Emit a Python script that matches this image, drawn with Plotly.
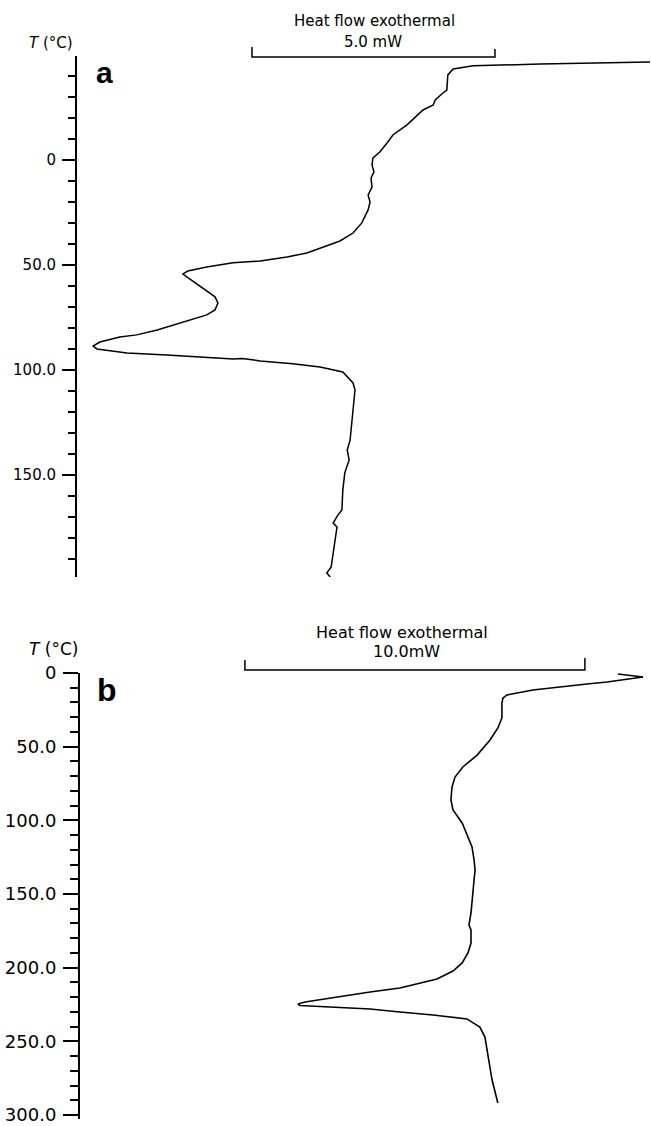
import plotly.graph_objects as go

W, H = 651, 1126

# ---------------- Panel a data (heat flow in mW, arbitrary origin; T in °C)
hf_a = [11.79, 10.21, 9.53, 8.15, 7.74, 7.63, 7.61, 7.53, 7.37, 7.33, 7.12, 6.79, 6.50, 6.38,
        6.23, 6.09, 6.07, 6.11, 6.05, 6.07, 5.99, 6.03, 5.99, 5.86, 5.68, 5.41, 5.00, 4.73,
        4.32, 3.77, 3.21, 2.67, 2.28, 2.18, 2.26, 2.59, 2.84, 2.90, 2.84, 2.67, 2.33, 1.98,
        1.65, 1.23, 0.88, 0.47, 0.33, 0.41, 1.03, 1.85, 2.74, 3.21, 3.40, 3.77, 4.44, 5.00,
        5.47, 5.68, 5.72, 5.70, 5.68, 5.66, 5.64, 5.62, 5.56, 5.60, 5.51, 5.47, 5.45, 5.37,
        5.27, 5.35, 5.31, 5.27, 5.23, 5.14, 5.21]
t_a = [-46.7, -46.2, -45.7, -44.8, -43.3, -40.5, -33.3, -31.9, -28.6, -26.2, -23.8, -16.7, -11.9, -8.1,
       -3.8, -1.0, 2.4, 5.7, 8.6, 12.9, 16.7, 20.0, 23.8, 30.0, 34.8, 38.6, 41.9, 44.3,
       46.2, 48.1, 49.0, 51.0, 52.9, 54.3, 55.7, 61.0, 65.2, 68.1, 71.4, 73.8, 76.2, 78.6,
       81.0, 83.3, 84.3, 86.7, 88.6, 90.0, 91.9, 92.9, 94.3, 94.8, 94.6, 95.7, 97.1, 98.6,
       101.0, 106.2, 109.5, 114.3, 119.0, 123.8, 128.6, 133.3, 138.1, 142.9, 149.0, 157.1, 166.7, 169.0,
       172.9, 174.8, 181.0, 187.1, 193.8, 196.7, 198.6]

# ---------------- Panel b data
hf_b = [16.56, 16.18, 15.50, 14.91, 14.12, 13.32, 12.56, 12.44, 12.41, 12.41, 12.29, 12.06,
        11.68, 11.26, 11.03, 10.94, 10.91, 10.97, 11.24, 11.41, 11.53, 11.59, 11.62, 11.59,
        11.56, 11.50, 11.44, 11.50, 11.50, 11.41, 11.24, 10.97, 10.50, 9.41, 8.53, 7.35,
        6.62, 6.41, 6.47, 6.76, 7.35, 8.53, 9.41, 10.38, 11.38, 11.76, 11.91, 12.00, 12.12, 12.29]
t_b = [2.7, 4.1, 6.1, 7.5, 9.5, 11.5, 14.9, 17.0, 20.4, 30.5, 37.3, 45.5,
       55.7, 63.8, 70.6, 77.4, 86.2, 93.0, 101.8, 111.3, 118.1, 126.9, 133.7, 140.5,
       149.3, 162.9, 171.0, 174.4, 183.3, 190.0, 196.8, 202.3, 207.7, 213.8, 216.5, 220.6,
       223.3, 224.7, 225.7, 226.0, 226.7, 228.1, 230.1, 232.1, 234.8, 240.3, 247.1, 260.6, 276.3, 291.9]

ticks_a = [0, 50, 100, 150]
ticklabels_a = ["0", "50.0", "100.0", "150.0"]
ticks_b = [0, 50, 100, 150, 200, 250, 300]
ticklabels_b = ["0", "50.0", "100.0", "150.0", "200.0", "250.0", "300.0"]

scale_a = [3.60, 8.60]   # 5.0 mW bar
scale_b = [4.85, 14.85]  # 10.0 mW bar
arrow_b = [[15.82, 0.7], [16.56, 2.7]]

FONT = "DejaVu Sans"


def py(p):
    return 1 - p / H


fig = go.Figure()
fig.add_trace(go.Scatter(x=hf_a, y=t_a, mode="lines", line=dict(color="black", width=1.5),
                         xaxis="x", yaxis="y", hoverinfo="skip"))
fig.add_trace(go.Scatter(x=hf_b, y=t_b, mode="lines", line=dict(color="black", width=1.6),
                         xaxis="x2", yaxis="y2", hoverinfo="skip"))


def yax(domain, rng, tv, tt, fs, major_len, minor_len):
    return dict(domain=domain, range=rng, showgrid=False, zeroline=False, showline=True,
                automargin=False,
                linecolor="black", linewidth=2, ticks="outside", ticklen=major_len, tickwidth=1.6,
                tickcolor="black", tickmode="array", tickvals=tv, ticktext=tt,
                tickfont=dict(family=FONT, size=fs, color="black"), ticklabelstandoff=3,
                minor=dict(dtick=10, tick0=0, ticks="outside", ticklen=minor_len, tickwidth=1.6,
                           tickcolor="black", showgrid=False))


fig.update_layout(
    template="none",
    width=W, height=H, margin=dict(l=0, r=0, t=0, b=0, autoexpand=False),
    paper_bgcolor="white", plot_bgcolor="white", showlegend=False,
    xaxis=dict(domain=[77 / W, 1], range=[0, 574 / 48.6], visible=False, automargin=False),
    yaxis=dict(anchor="x", **yax([py(577), py(56)], [198.6, -49.5], ticks_a, ticklabels_a, 15, 13, 7)),
    xaxis2=dict(domain=[80 / W, 1], range=[0, 571 / 34], visible=False, automargin=False),
    yaxis2=dict(anchor="x2", **yax([py(1119.4), py(673)], [303, 0], ticks_b, ticklabels_b, 18, 15, 8)),
)

# scale bars
fig.add_shape(type="path", xref="x", yref="paper",
              path=f"M {scale_a[0]},{py(47)} L {scale_a[0]},{py(57)} L {scale_a[1]},{py(57)} L {scale_a[1]},{py(49)}",
              line=dict(color="black", width=1.5))
fig.add_shape(type="path", xref="x2", yref="paper",
              path=f"M {scale_b[0]},{py(660)} L {scale_b[0]},{py(670)} L {scale_b[1]},{py(670)} L {scale_b[1]},{py(658)}",
              line=dict(color="black", width=1.5))
fig.add_shape(type="line", xref="x2", yref="y2", x0=arrow_b[0][0], y0=arrow_b[0][1],
              x1=arrow_b[1][0], y1=arrow_b[1][1], line=dict(color="black", width=1.6))


def ann(x, y, text, size, bold=False):
    fig.add_annotation(x=x / W, y=py(y), xref="paper", yref="paper", text=text, showarrow=False,
                       xanchor="center", yanchor="middle",
                       font=dict(family="Liberation Sans" if bold else FONT, size=size, color="black",
                                 weight="bold" if bold else "normal"))


ann(374, 21, "Heat flow exothermal", 15)
ann(373, 42, "5.0 mW", 15)
ann(402, 632, "Heat flow exothermal", 16)
ann(406, 651, "10.0mW", 16)
ann(51, 43, "<i>T</i> (°C)", 15)
ann(53, 649, "<i>T</i> (°C)", 17)
ann(104, 72, "a", 30, bold=True)
ann(107, 690, "b", 32, bold=True)

fig.write_html("out.html")
